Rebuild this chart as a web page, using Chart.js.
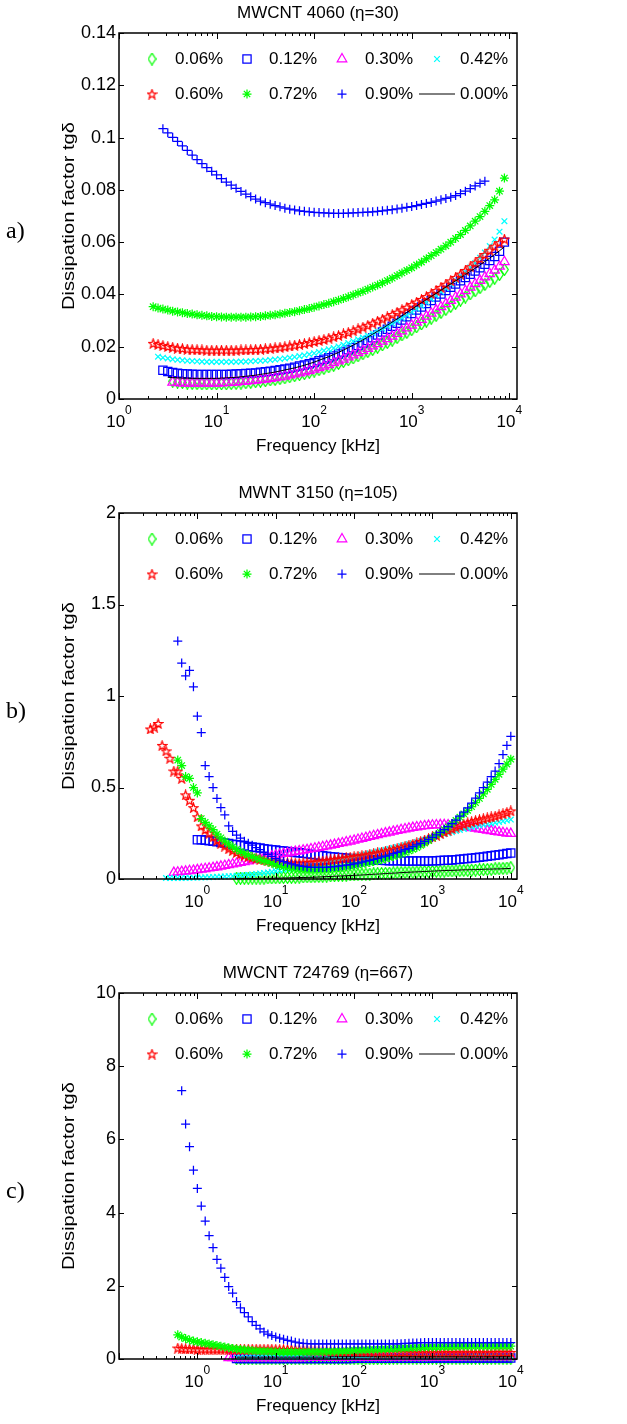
<!DOCTYPE html>
<html>
<head>
<meta charset="utf-8">
<title>Dissipation factor vs frequency</title>
<script src="https://cdn.jsdelivr.net/npm/chart.js@4.4.1/dist/chart.umd.min.js"></script>
<style>
  html, body { margin: 0; padding: 0; background: #fff; }
  body { width: 627px; height: 1424px; position: relative; overflow: hidden; }
  canvas { position: absolute; left: 0; }
</style>
</head>
<body>
<canvas id="panelA" width="627" height="480" style="top:0"></canvas>
<canvas id="panelB" width="627" height="480" style="top:480px"></canvas>
<canvas id="panelC" width="627" height="464" style="top:960px"></canvas>
<script>
const LABELS = ['0.06%', '0.12%', '0.30%', '0.42%', '0.60%', '0.72%', '0.90%', '0.00%'];
const X_DECADES = [1, 10, 100, 1000, 10000];

// frequency sweep [kHz], 20 points per decade
const FREQ_A = [2.239, 2.512, 2.818, 3.162, 3.548, 3.981, 4.467, 5.012, 5.623, 6.310, 7.079, 7.943, 8.913,
  10.00, 11.22, 12.59, 14.13, 15.85, 17.78, 19.95, 22.39, 25.12, 28.18, 31.62, 35.48, 39.81, 44.67, 50.12, 56.23, 63.10, 70.79, 79.43, 89.13,
  100.0, 112.2, 125.9, 141.3, 158.5, 177.8, 199.5, 223.9, 251.2, 281.8, 316.2, 354.8, 398.1, 446.7, 501.2, 562.3, 631.0, 707.9, 794.3, 891.3,
  1000, 1122, 1259, 1413, 1585, 1778, 1995, 2239, 2512, 2818, 3162, 3548, 3981, 4467, 5012, 5623, 6310, 7079, 7943, 8913];
const FREQ_BC = [0.2512, 0.2818, 0.3162, 0.3548, 0.3981, 0.4467, 0.5012, 0.5623, 0.6310, 0.7079, 0.7943, 0.8913,
  1.000, 1.122, 1.259, 1.413, 1.585, 1.778, 1.995, 2.239, 2.512, 2.818, 3.162, 3.548, 3.981, 4.467, 5.012, 5.623, 6.310, 7.079, 7.943, 8.913,
  10.00, 11.22, 12.59, 14.13, 15.85, 17.78, 19.95, 22.39, 25.12, 28.18, 31.62, 35.48, 39.81, 44.67, 50.12, 56.23, 63.10, 70.79, 79.43, 89.13,
  100.0, 112.2, 125.9, 141.3, 158.5, 177.8, 199.5, 223.9, 251.2, 281.8, 316.2, 354.8, 398.1, 446.7, 501.2, 562.3, 631.0, 707.9, 794.3, 891.3,
  1000, 1122, 1259, 1413, 1585, 1778, 1995, 2239, 2512, 2818, 3162, 3548, 3981, 4467, 5012, 5623, 6310, 7079, 7943, 8913,
  10000];

// MWCNT 4060 (eta=30)
const A_006 = [null, null, null, null,
  .0068, .0065, .0063, .0061, .0060, .0059, .0058, .0058, .0058, .0058,
  .0058, .0058, .0059, .0060, .0061, .0062, .0064, .0066, .0068, .0070,
  .0073, .0075, .0078, .0081, .0085, .0089, .0093, .0097, .0102, .0107,
  .0112, .0117, .0123, .0129, .0136, .0143, .0150, .0157, .0165, .0173,
  .0181, .0189, .0198, .0207, .0216, .0225, .0235, .0245, .0255, .0265,
  .0276, .0287, .0298, .0309, .0320, .0331, .0343, .0354, .0366, .0378,
  .0390, .0402, .0414, .0426, .0438, .0450, .0462, .0476, .0495];
const A_012 = [null, null,
  .0110, .0105, .0101, .0099, .0097, .0096, .0095, .0094, .0094, .0094,
  .0094, .0094, .0094, .0094, .0095, .0096, .0097, .0098, .0099, .0100,
  .0102, .0104, .0106, .0109, .0112, .0115, .0118, .0122, .0126, .0130,
  .0135, .0140, .0146, .0152, .0158, .0165, .0172, .0180, .0188, .0196,
  .0205, .0214, .0224, .0234, .0245, .0256, .0267, .0278, .0290, .0302,
  .0315, .0327, .0340, .0352, .0365, .0377, .0390, .0402, .0415, .0427,
  .0440, .0452, .0465, .0477, .0490, .0502, .0515, .0530, .0545, .0565,
  .0600];
const A_030 = [null, null, null, null,
  .0064, .0062, .0061, .0060, .0060, .0060, .0060, .0060, .0060, .0060,
  .0061, .0062, .0063, .0064, .0066, .0067, .0069, .0071, .0073, .0075,
  .0078, .0081, .0084, .0087, .0091, .0095, .0099, .0103, .0108, .0113,
  .0119, .0125, .0131, .0138, .0145, .0152, .0160, .0168, .0176, .0184,
  .0193, .0202, .0211, .0220, .0230, .0240, .0250, .0260, .0271, .0282,
  .0293, .0304, .0316, .0328, .0340, .0352, .0364, .0376, .0389, .0401,
  .0414, .0427, .0440, .0453, .0466, .0479, .0492, .0507, .0525];
const A_042 = [null,
  .0162, .0158, .0155, .0152, .0150, .0148, .0146, .0145, .0144, .0143,
  .0142, .0142, .0142, .0142, .0142, .0142, .0142, .0143, .0143, .0144,
  .0145, .0146, .0147, .0149, .0151, .0153, .0155, .0158, .0161, .0164,
  .0167, .0171, .0175, .0180, .0185, .0190, .0195, .0201, .0207, .0214,
  .0221, .0228, .0235, .0243, .0251, .0260, .0269, .0279, .0289, .0299,
  .0310, .0321, .0333, .0345, .0357, .0370, .0383, .0396, .0410, .0424,
  .0439, .0454, .0470, .0486, .0503, .0520, .0540, .0560, .0585, .0610,
  .0640, .0680];
const A_060 = [
  .0213, .0209, .0205, .0201, .0198, .0195, .0193, .0191, .0190, .0189,
  .0188, .0187, .0187, .0187, .0187, .0187, .0187, .0187, .0188, .0188,
  .0189, .0190, .0191, .0192, .0194, .0196, .0198, .0200, .0203, .0206,
  .0209, .0212, .0216, .0220, .0224, .0228, .0233, .0238, .0243, .0249,
  .0255, .0261, .0268, .0275, .0282, .0290, .0298, .0306, .0314, .0323,
  .0332, .0341, .0351, .0361, .0371, .0381, .0392, .0403, .0415, .0427,
  .0439, .0452, .0465, .0478, .0492, .0506, .0521, .0537, .0553, .0569,
  .0585, .0598, .0612];
const A_072 = [
  .0353, .0348, .0344, .0340, .0336, .0333, .0330, .0327, .0325, .0322,
  .0320, .0318, .0316, .0315, .0314, .0313, .0313, .0313, .0313, .0313,
  .0314, .0315, .0316, .0318, .0320, .0322, .0325, .0328, .0331, .0334,
  .0338, .0342, .0346, .0351, .0356, .0361, .0366, .0372, .0378, .0384,
  .0391, .0398, .0405, .0412, .0420, .0428, .0436, .0444, .0453, .0462,
  .0472, .0482, .0492, .0502, .0513, .0524, .0536, .0548, .0560, .0573,
  .0586, .0600, .0614, .0629, .0645, .0662, .0680, .0698, .0718, .0740,
  .0762, .0795, .0845];
const A_090 = [null, null,
  .1034, .1018, .1001, .0985, .0968, .0951, .0933, .0916, .0900, .0885,
  .0871, .0857, .0843, .0830, .0818, .0806, .0794, .0784, .0774, .0765,
  .0757, .0751, .0745, .0740, .0735, .0730, .0726, .0723, .0720, .0718,
  .0716, .0714, .0713, .0712, .0711, .0710, .0710, .0710, .0711, .0712,
  .0713, .0714, .0715, .0716, .0718, .0720, .0722, .0724, .0727, .0730,
  .0733, .0736, .0740, .0744, .0748, .0752, .0757, .0762, .0767, .0772,
  .0778, .0786, .0795, .0805, .0815, .0825, .0833,
  null, null, null, null];
const A_000 = [null, null, null,
  .0083, .0082, .0081, .0080, .0080, .0079, .0079, .0079, .0079, .0079,
  .0079, .0080, .0081, .0082, .0083, .0085, .0087, .0089, .0091, .0094,
  .0097, .0100, .0103, .0107, .0111, .0115, .0119, .0124, .0129, .0135,
  .0141, .0148, .0155, .0162, .0170, .0178, .0187, .0196, .0206, .0216,
  .0226, .0237, .0248, .0259, .0270, .0282, .0294, .0306, .0318, .0331,
  .0343, .0356, .0368, .0380, .0392, .0404, .0416, .0428, .0440, .0452,
  .0464, .0476, .0488, .0500, .0513, .0526, .0539, .0553, .0567, .0582];

// MWNT 3150 (eta=105)
const B_006 = [null, null, null, null, null, null, null, null, null, null, null,
  null, null, null, null, null, null, null, null, null, null, null,
  .004, .004, .004, .004, .005, .005, .005, .005, .006, .006,
  .007, .007, .008, .008, .009, .009, .010, .011, .012, .012,
  .013, .014, .015, .016, .017, .018, .019, .020, .021, .022,
  .023, .024, .025, .026, .027, .028, .029, .030, .031, .032,
  .033, .034, .035, .036, .037, .037, .038, .039, .040, .040,
  .041, .042, .043, .043, .044, .044, .045, .046, .047, .047,
  .048, .049, .050, .051, .052, .053, .055, .056, .058, .060,
  .062];
const B_012 = [null, null, null, null, null, null, null, null, null, null, null, null,
  .215, .214, .212, .209, .206, .203, .200, .197, .194, .190,
  .187, .184, .181, .178, .175, .172, .169, .166, .163, .160,
  .158, .155, .153, .150, .148, .145, .143, .140, .138, .135,
  .132, .130, .127, .125, .122, .120, .118, .116, .114, .112,
  .110, .108, .107, .106, .105, .104, .103, .102, .101, .100,
  .100, .099, .099, .098, .098, .098, .098, .098, .098, .098,
  .099, .100, .101, .102, .103, .104, .106, .108, .110, .112,
  .114, .116, .119, .121, .124, .127, .130, .133, .136, .139,
  .142];
const B_030 = [null, null, null, null, null, null,
  .035, .037, .040, .042, .045, .047, .050, .053, .056, .059,
  .062, .065, .069, .073, .077, .081, .085, .089, .094, .098,
  .103, .107, .112, .116, .121, .125, .130, .134, .138, .142,
  .146, .150, .153, .157, .160, .164, .168, .172, .176, .180,
  .184, .188, .193, .197, .202, .206, .211, .216, .221, .226,
  .231, .236, .241, .246, .251, .255, .260, .264, .269, .273,
  .277, .281, .284, .287, .290, .292, .294, .295, .296, .296,
  .295, .294, .292, .290, .287, .284, .280, .277, .273, .270,
  .266, .263, .259, .256, .253, .250, .248];
const B_042 = [null, null, null, null,
  .005, .005, .005, .005, .006, .006, .007, .007, .008, .008,
  .009, .010, .011, .012, .013, .014, .015, .016, .018, .019,
  .021, .023, .025, .027, .030, .033, .036, .039, .043, .046,
  .050, .053, .057, .060, .064, .067, .071, .075, .079, .083,
  .087, .091, .095, .099, .104, .108, .113, .117, .122, .126,
  .131, .135, .140, .145, .150, .155, .160, .165, .170, .175,
  .180, .185, .191, .196, .202, .208, .214, .220, .226, .232,
  .238, .244, .250, .256, .262, .268, .273, .278, .283, .288,
  .292, .296, .300, .304, .308, .312, .316, .320, .325];
const B_060 = [
  .82, .83, .85, .73, .70, .66, .59, .59, .55, .46,
  .43, .39, .34, .29, .27, .25, .23, .21, .195, .18,
  .165, .155, .145, .137, .130, .124, .118, .113, .108, .104,
  .100, .097, .094, .092, .090, .089, .088, .087, .087, .088,
  .089, .091, .093, .095, .098, .101, .104, .107, .110, .113,
  .116, .119, .122, .125, .128, .131, .135, .139, .143, .147,
  .152, .157, .162, .167, .173, .179, .185, .191, .198, .205,
  .213, .221, .230, .239, .248, .257, .266, .275, .284, .292,
  .300, .307, .313, .319, .324, .329, .334, .339, .344, .350,
  .356, .364, .372];
const B_072 = [null, null, null, null, null, null, null,
  .65, .62, .56, .55, .50, .47, .33, .31, .29, .27,
  .245, .225, .207, .190, .176, .162, .151, .140, .131, .122,
  .114, .106, .099, .093, .086, .079, .073, .067, .063, .060,
  .057, .055, .054, .053, .053, .053, .054, .055, .056, .058,
  .060, .062, .064, .067, .070, .073, .077, .081, .085, .090,
  .095, .100, .105, .111, .117, .123, .130, .137, .145, .153,
  .162, .172, .184, .196, .210, .225, .240, .255, .270, .285,
  .302, .320, .338, .356, .375, .395, .417, .440, .465, .490,
  .517, .545, .572, .600, .628, .655];
const B_090 = [null, null, null, null, null, null, null,
  1.30, 1.18, 1.11, 1.14, 1.05, .89, .80, .62, .56, .50,
  .44, .39, .35, .29, .26, .24, .224, .206, .195, .185,
  .172, .160, .147, .135, .123, .112, .103, .095, .088, .082,
  .077, .072, .069, .066, .064, .063, .063, .063, .064, .066,
  .068, .070, .073, .076, .079, .083, .087, .092, .097, .102,
  .107, .113, .119, .125, .131, .138, .145, .152, .160, .168,
  .177, .186, .195, .205, .216, .228, .241, .255, .270, .286,
  .303, .322, .343, .365, .389, .415, .442, .470, .500, .530,
  .560, .590, .630, .680, .730, .780];
const B_000 = [null, null, null, null, null, null, null, null, null, null, null,
  null, null, null, null, null, null, null, null, null, null, null,
  .003, .003, .003, .003, .003, .003, .004, .004, .004, .004,
  .005, .005, .006, .006, .007, .007, .008, .008, .009, .009,
  .010, .011, .012, .013, .014, .015, .016, .017, .018, .019,
  .020, .021, .022, .023, .025, .026, .027, .028, .030, .031,
  .032, .033, .035, .036, .037, .038, .039, .040, .041, .042,
  .043, .044, .045, .046, .047, .047, .048, .049, .050, .050,
  .051, .051, .052, .053, .054, .054, .055, .055, .056, .057,
  .058];

// MWCNT 724769 (eta=667)
const C_006 = [null, null, null, null, null, null, null, null, null, null, null,
  null, null, null, null, null, null, null, null, null, null, null,
  .01, .01, .01, .01, .01, .01, .01, .01, .01, .01,
  .01, .01, .01, .01, .01, .01, .01, .01, .01, .01,
  .01, .01, .01, .01, .01, .01, .01, .01, .01, .01,
  .01, .01, .01, .01, .01, .01, .01, .01, .01, .01,
  .02, .02, .02, .02, .02, .02, .02, .02, .02, .02,
  .02, .02, .02, .02, .02, .02, .02, .02, .02, .02,
  .02, .02, .02, .02, .02, .02, .02, .02, .02, .02,
  .02];
const C_012 = [null, null, null, null, null, null, null, null, null, null, null,
  null, null, null, null, null, null, null, null, null, null, null,
  .01, .01, .01, .01, .01, .01, .01, .01, .01, .01,
  .01, .01, .01, .01, .01, .01, .01, .01, .01, .01,
  .01, .01, .01, .01, .01, .01, .01, .01, .01, .01,
  .02, .02, .02, .02, .02, .02, .02, .02, .02, .02,
  .02, .02, .02, .02, .02, .02, .02, .02, .02, .02,
  .03, .03, .03, .03, .03, .03, .03, .03, .03, .03,
  .03, .03, .03, .03, .03, .03, .03, .03, .03, .03,
  .03];
const C_030 = [null, null, null, null, null, null, null, null, null, null,
  null, null, null, null, null, null, null, null, null, null,
  .03, .03, .03, .03, .03, .03, .03, .03, .03, .03,
  .03, .03, .03, .03, .03, .03, .03, .03, .03, .03,
  .04, .04, .04, .04, .04, .04, .04, .04, .04, .04,
  .04, .04, .04, .04, .04, .04, .04, .04, .04, .04,
  .05, .05, .05, .05, .05, .05, .05, .05, .05, .05,
  .05, .05, .05, .05, .05, .05, .05, .05, .05, .05,
  .06, .06, .06, .06, .06, .06, .06, .06, .06, .06,
  .06, .06, .06];
const C_042 = [null, null, null, null, null, null, null, null, null, null, null,
  null, null, null, null, null, null, null, null, null, null, null,
  .05, .05, .05, .05, .05, .05, .05, .05, .05, .05,
  .05, .05, .05, .05, .05, .05, .05, .05, .05, .05,
  .06, .06, .06, .06, .06, .06, .06, .06, .06, .06,
  .06, .06, .06, .06, .06, .06, .06, .06, .06, .06,
  .07, .07, .07, .07, .07, .07, .07, .07, .07, .07,
  .07, .07, .07, .07, .07, .07, .07, .07, .07, .07,
  .08, .08, .08, .08, .08, .08, .08, .08, .08, .08,
  .08];
const C_060 = [null, null, null, null, null, null, null,
  .30, .29, .28, .28, .28, .27, .27, .27, .27, .27,
  .27, .27, .27, .27, .27, .27, .27, .27, .27, .27,
  .27, .27, .27, .27, .27, .265, .26, .26, .26, .26,
  .255, .25, .25, .245, .24, .235, .23, .225, .22, .22,
  .22, .215, .21, .21, .21, .205, .20, .20, .20, .195,
  .19, .19, .19, .185, .18, .18, .18, .18, .18, .175,
  .17, .17, .17, .17, .17, .17, .17, .17, .17, .17,
  .17, .17, .17, .17, .17, .17, .17, .17, .17, .17,
  .17, .18, .18, .18, .18, .18];
const C_072 = [null, null, null, null, null, null, null,
  .66, .60, .56, .52, .49, .47, .45, .43, .41, .39,
  .37, .35, .33, .31, .29, .275, .26, .25, .24, .23,
  .22, .215, .21, .205, .20, .195, .19, .19, .19, .19,
  .19, .19, .19, .195, .20, .20, .20, .205, .21, .21,
  .21, .215, .22, .225, .23, .235, .24, .245, .25, .255,
  .26, .265, .27, .275, .28, .285, .29, .295, .30, .305,
  .31, .315, .32, .325, .33, .33, .33, .335, .34, .34,
  .34, .345, .35, .35, .35, .35, .35, .35, .35, .35,
  .35, .35, .35, .35, .35, .35];
const C_090 = [null, null, null, null, null, null, null, null,
  7.33, 6.42, 5.80, 5.16, 4.66, 4.18, 3.77, 3.37, 3.04, 2.72,
  2.48, 2.23, 1.98, 1.80, 1.57, 1.40, 1.27, 1.15, 1.02, .92,
  .82, .74, .68, .64, .60, .57, .54, .51, .49, .46,
  .44, .43, .42, .41, .41, .41, .41, .41, .41, .41,
  .41, .41, .41, .41, .41, .41, .41, .41, .41, .41,
  .41, .41, .41, .41, .41, .415, .42, .425, .43, .435,
  .44, .445, .45, .45, .45, .45, .45, .45, .45, .45,
  .45, .45, .45, .45, .45, .45, .45, .45, .45, .45,
  .45, .45, .45, .45, .45];
const C_000 = [null, null, null, null, null, null, null, null, null, null, null,
  null, null, null, null, null, null, null, null, null, null, null,
  .05, .05, .05, .05, .05, .05, .05, .05, .05, .05,
  .05, .05, .05, .05, .05, .05, .05, .05, .05, .05,
  .05, .05, .05, .05, .06, .06, .06, .06, .06, .06,
  .06, .06, .06, .06, .06, .06, .06, .06, .06, .06,
  .06, .06, .06, .06, .06, .06, .06, .06, .06, .06,
  .06, .06, .06, .06, .06, .06, .06, .06, .06, .06,
  .06, .06, .06, .06, .06, .06, .06, .06, .06, .06,
  .06];

const FONT = '"Liberation Sans", Arial, Helvetica, sans-serif';
Chart.defaults.font.family = FONT;
Chart.defaults.color = '#000';

const MARK_LW = 1.25;

// hand-drawn markers for the shapes Chart.js lacks
function markerCanvas(w, h, color, path) {
  const c = document.createElement('canvas');
  c.width = w;
  c.height = h;
  const g = c.getContext('2d');
  g.strokeStyle = color;
  g.lineWidth = MARK_LW;
  g.beginPath();
  path(g, w, h);
  g.closePath();
  g.stroke();
  return c;
}

const diamondMark = markerCanvas(9, 13, '#00ff00', (g, w, h) => {
  g.moveTo(w / 2, 0.7);
  g.lineTo(w - 0.7, h / 2);
  g.lineTo(w / 2, h - 0.7);
  g.lineTo(0.7, h / 2);
});

const pentagramMark = markerCanvas(11, 11, '#ff0000', (g, w, h) => {
  for (let i = 0; i < 10; i++) {
    const r = i % 2 ? 2.0 : 4.8;
    const ang = -Math.PI / 2 + i * Math.PI / 5;
    const px = w / 2 + r * Math.cos(ang);
    const py = h / 2 + 0.5 + r * Math.sin(ang);
    if (i === 0) g.moveTo(px, py); else g.lineTo(px, py);
  }
});

const STYLES = [
  { color: '#00ff00', style: diamondMark, radius: 5 },
  { color: '#0000ff', style: 'rect', radius: 5.8 },
  { color: '#ff00ff', style: 'triangle', radius: 5.5 },
  { color: '#00ffff', style: 'crossRot', radius: 4 },
  { color: '#ff0000', style: pentagramMark, radius: 5 },
  { color: '#00ff00', style: 'star', radius: 4.5 },
  { color: '#0000ff', style: 'cross', radius: 4.5 },
  { color: '#000000', line: true }
];

function buildDatasets(freq, seriesList) {
  return seriesList.map((vals, i) => {
    const s = STYLES[i];
    const pts = freq.map((f, k) => ({ x: f, y: vals[k] })).filter(p => p.y !== null && p.y !== undefined);
    return {
      label: LABELS[i],
      data: pts,
      order: seriesList.length - 1 - i,   // later series are drawn on top
      showLine: !!s.line,
      borderColor: s.color,
      backgroundColor: 'rgba(0,0,0,0)',
      borderWidth: 1,
      pointStyle: s.line ? 'circle' : s.style,
      pointRadius: s.line ? 0 : s.radius,
      pointBorderWidth: MARK_LW,
      pointBorderColor: s.color,
      pointBackgroundColor: 'rgba(0,0,0,0)',
      clip: false
    };
  });
}

// box, inward ticks, decade labels, titles and the in-plot legend
const panelDecor = {
  id: 'panelDecor',
  afterDraw(chart, args, opts) {
    const { ctx, chartArea: a } = chart;
    const xs = chart.scales.x, ys = chart.scales.y;
    ctx.save();
    ctx.strokeStyle = '#000';
    ctx.lineWidth = 1;

    ctx.beginPath();
    ys.ticks.forEach(t => {
      const py = Math.round(ys.getPixelForValue(t.value)) + 0.5;
      ctx.moveTo(a.left, py); ctx.lineTo(a.left + 5, py);
      ctx.moveTo(a.right, py); ctx.lineTo(a.right - 5, py);
    });
    const e0 = Math.floor(Math.log10(xs.min)), e1 = Math.ceil(Math.log10(xs.max));
    for (let e = e0; e <= e1; e++) {
      for (let m = 1; m < 10; m++) {
        const v = m * Math.pow(10, e);
        if (v < xs.min * 0.999 || v > xs.max) continue;
        const px = Math.round(xs.getPixelForValue(v)) + 0.5;
        const len = m === 1 ? 6 : 3;
        ctx.moveTo(px, a.bottom); ctx.lineTo(px, a.bottom - len);
        ctx.moveTo(px, a.top); ctx.lineTo(px, a.top + len);
      }
    }
    ctx.stroke();

    ctx.lineWidth = 1.5;
    ctx.strokeRect(a.left, a.top, a.right - a.left, a.bottom - a.top);

    // 10^n labels
    ctx.fillStyle = '#000';
    ctx.textAlign = 'left';
    ctx.textBaseline = 'alphabetic';
    xs.ticks.forEach(t => {
      const px = xs.getPixelForValue(t.value);
      const exp = String(Math.round(Math.log10(t.value)));
      ctx.font = '17px ' + FONT;
      const wb = ctx.measureText('10').width;
      ctx.font = '12px ' + FONT;
      const we = ctx.measureText(exp).width;
      const left = px - (wb + we) / 2;
      ctx.font = '17px ' + FONT;
      ctx.fillText('10', left, a.bottom + 28);
      ctx.font = '12px ' + FONT;
      ctx.fillText(exp, left + wb, a.bottom + 15);
    });

    const cx = (a.left + a.right) / 2;
    ctx.textAlign = 'center';
    ctx.textBaseline = 'middle';
    ctx.font = '17px ' + FONT;
    ctx.fillText(opts.title, cx, a.top - 20);
    ctx.fillText('Frequency [kHz]', cx, a.bottom + 47);

    // rotated y label, stretched a little along its length
    ctx.save();
    ctx.translate(74, (a.top + a.bottom) / 2);
    ctx.rotate(-Math.PI / 2);
    ctx.font = '17px ' + FONT;
    ctx.textBaseline = 'alphabetic';
    const yl = 'Dissipation factor tg\u03B4';
    ctx.scale(188 / ctx.measureText(yl).width, 1);
    ctx.fillText(yl, 0, 0);
    ctx.restore();

    ctx.font = '24px "Liberation Serif", "Times New Roman", serif';
    ctx.textAlign = 'left';
    ctx.fillText(opts.tag, 6, a.top + 199);

    // legend: two rows of four
    const rows = [a.top + 26, a.top + 61];
    const colMark = [33, 128, 223, 318];
    const colText = [56, 150, 246, 341];
    chart.data.datasets.forEach((ds, i) => {
      const my = rows[Math.floor(i / 4)];
      const col = i % 4;
      if (ds.showLine) {
        ctx.lineWidth = 1;
        ctx.strokeStyle = ds.borderColor;
        ctx.beginPath();
        ctx.moveTo(a.left + 300, my);
        ctx.lineTo(a.left + 336, my);
        ctx.stroke();
      } else {
        ctx.lineWidth = MARK_LW;
        ctx.strokeStyle = ds.pointBorderColor;
        ctx.fillStyle = 'rgba(0,0,0,0)';
        Chart.helpers.drawPoint(ctx, { pointStyle: ds.pointStyle, radius: ds.pointRadius, rotation: 0, borderWidth: MARK_LW },
          a.left + colMark[col], my);
      }
      ctx.fillStyle = '#000';
      ctx.font = '17px ' + FONT;
      ctx.textAlign = 'left';
      ctx.textBaseline = 'middle';
      ctx.fillText(ds.label, a.left + colText[col], my);
    });
    ctx.restore();
  }
};

function makePanel(id, freq, series, cfg) {
  return new Chart(document.getElementById(id), {
    type: 'scatter',
    data: { datasets: buildDatasets(freq, series) },
    options: {
      responsive: false,
      animation: false,
      events: [],
      layout: { padding: { top: 33, right: 110, left: 0, bottom: 0 } },
      plugins: {
        legend: { display: false },
        tooltip: { enabled: false },
        panelDecor: { title: cfg.title, tag: cfg.tag }
      },
      scales: {
        x: {
          type: 'logarithmic',
          min: cfg.xMin,
          max: 12000,
          ticks: { display: false },
          grid: { display: false, drawTicks: false },
          border: { display: false },
          afterBuildTicks: s => { s.ticks = X_DECADES.map(v => ({ value: v })); },
          afterFit: s => { s.height = cfg.bottomSpace; }
        },
        y: {
          type: 'linear',
          min: 0,
          max: cfg.yMax,
          ticks: {
            stepSize: cfg.yStep,
            padding: 3,
            color: '#000',
            font: { size: 18 },
            callback: v => String(parseFloat(Number(v).toFixed(3)))
          },
          grid: { display: false, drawTicks: false },
          border: { display: false },
          afterFit: s => { s.width = 119; }
        }
      }
    },
    plugins: [panelDecor]
  });
}

makePanel('panelA', FREQ_A, [A_006, A_012, A_030, A_042, A_060, A_072, A_090, A_000],
  { title: 'MWCNT 4060 (\u03B7=30)', tag: 'a)', xMin: 1, yMax: 0.14, yStep: 0.02, bottomSpace: 81 });
makePanel('panelB', FREQ_BC, [B_006, B_012, B_030, B_042, B_060, B_072, B_090, B_000],
  { title: 'MWNT 3150 (\u03B7=105)', tag: 'b)', xMin: 0.1, yMax: 2, yStep: 0.5, bottomSpace: 81 });
makePanel('panelC', FREQ_BC, [C_006, C_012, C_030, C_042, C_060, C_072, C_090, C_000],
  { title: 'MWCNT 724769 (\u03B7=667)', tag: 'c)', xMin: 0.1, yMax: 10, yStep: 2, bottomSpace: 65 });
</script>
</body>
</html>
